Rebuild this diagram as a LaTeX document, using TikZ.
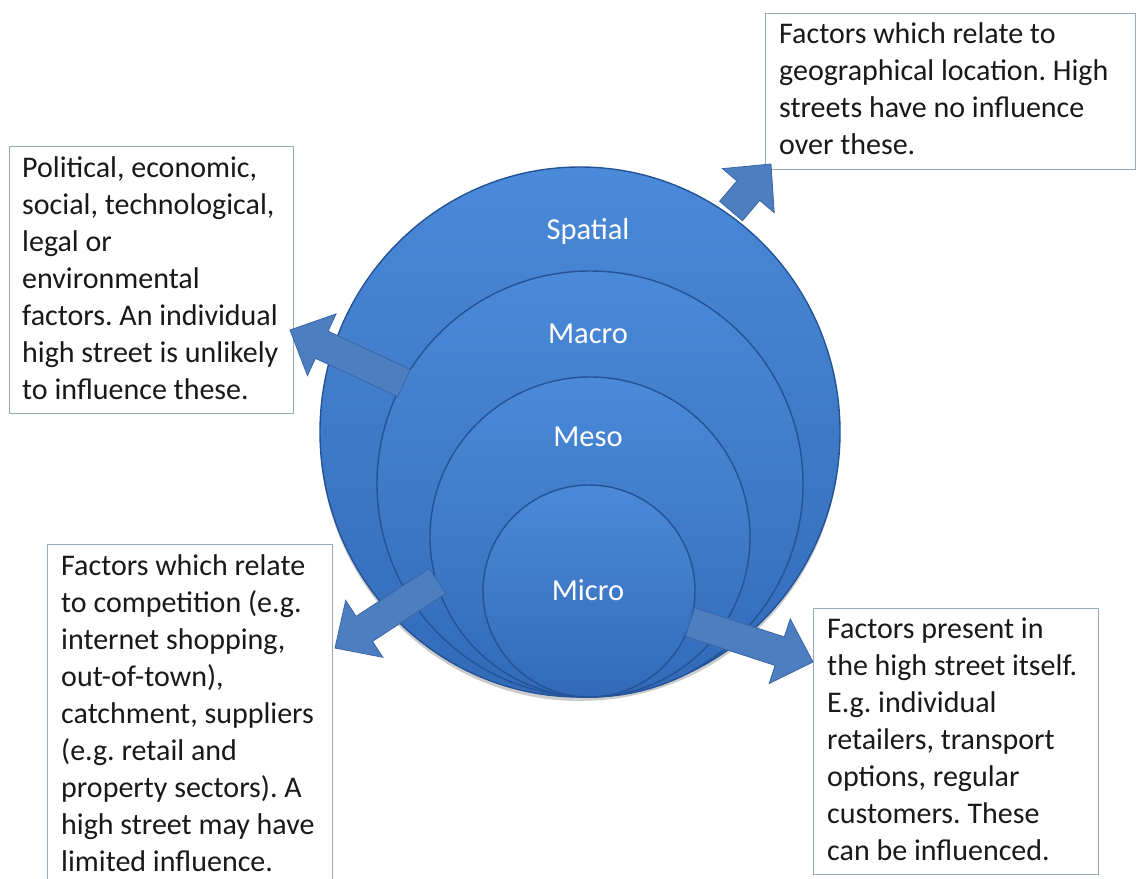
\documentclass[tikz,border=0pt]{standalone}
\usepackage{fontspec}
\setmainfont{Carlito}
\usetikzlibrary{calc,shapes.geometric,shadows}
\definecolor{circtop}{RGB}{74,138,216}
\definecolor{circbot}{RGB}{50,106,184}
\definecolor{circedge}{RGB}{36,82,150}
\definecolor{arrfill}{RGB}{76,126,192}
\definecolor{arredge}{RGB}{58,102,166}
\definecolor{boxedge}{RGB}{150,170,186}
\definecolor{txt}{RGB}{25,25,25}
\frenchspacing
\newcommand{\blockarrow}[1]{%
  \coordinate (#1n) at ($(#1h)!35pt!(#1t)$);
  \filldraw[blockarr] ($(#1t)!15pt!90:(#1h)$) -- ($(#1n)!15pt!-90:(#1t)$) -- ($(#1n)!34pt!-90:(#1t)$) -- (#1h) -- ($(#1n)!34pt!90:(#1t)$) -- ($(#1n)!15pt!90:(#1t)$) -- ($(#1t)!15pt!-90:(#1h)$) -- cycle;}
\begin{document}
\begin{tikzpicture}[x=1pt,y=-1pt,
  layer/.style={draw=circedge, line width=1.4pt, top color=circtop, bottom color=circbot, inner sep=0pt},
  lbl/.style={text=white, font=\fontsize{30.5}{36}\selectfont, anchor=base, inner sep=0pt},
  infobox/.style={draw=boxedge, line width=1pt, fill=white, anchor=north west, inner sep=0pt},
  infotext/.style={anchor=north west, inner sep=0pt, align=left, text=txt, font=\fontsize{30}{37}\selectfont},
  blockarr/.style={fill=arrfill, draw=arredge, line width=0.8pt, line join=miter}]
\useasboundingbox (0,0) rectangle (1137,878);
\clip (0,0) rectangle (1137,878);
% nested circles
\node[layer, ellipse, minimum width=520pt, minimum height=530pt, drop shadow={shadow xshift=0pt, shadow yshift=-4pt, opacity=0.2, fill=black}] (spatial) at (580,432) {};
\node[layer, circle, minimum size=426pt] (macro) at (590,484) {};
\node[layer, circle, minimum size=320pt] (meso) at (590,537) {};
\node[layer, circle, minimum size=212pt] (micro) at (589,591) {};
\node[lbl] (lspatial) at (588,239) {Spatial};
\node[lbl] (lmacro) at (588,343) {Macro};
\node[lbl] (lmeso) at (588,446) {Meso};
\node[lbl] (lmicro) at (588,600) {Micro};
% boxes
\node[infobox, minimum width=370pt, minimum height=156pt] (boxTR) at (765,12.7) {};
\node[infobox, minimum width=284.5pt, minimum height=267pt] (boxL) at (8.5,146) {};
\node[infobox, minimum width=285pt, minimum height=360pt] (boxBL) at (47,544) {};
\node[infobox, minimum width=285pt, minimum height=266.3pt] (boxBR) at (813,607.7) {};
\node[infotext] (tTR) at ($(boxTR.north west)+(14,6)$) {\rule{0pt}{25pt}Factors which relate to\\geographical location. High\\streets have no influence\\over these.};
\node[infotext] (tL) at ($(boxL.north west)+(13.5,6)$) {\rule{0pt}{25pt}Political, economic,\\social, technological,\\legal or\\environmental\\factors. An individual\\high street is unlikely\\to influence these.};
\node[infotext] (tBL) at ($(boxBL.north west)+(14,6)$) {\rule{0pt}{25pt}Factors which relate\\to competition (e.g.\\internet shopping,\\out-of-town),\\catchment, suppliers\\(e.g. retail and\\property sectors). A\\high street may have\\limited influence.};
\node[infotext] (tBR) at ($(boxBR.north west)+(14,6)$) {\rule{0pt}{25pt}Factors present in\\the high street itself.\\E.g. individual\\retailers, transport\\options, regular\\customers. These\\can be influenced.};
% arrows
\coordinate (a1t) at (731,211);
\coordinate (a1h) at (771,164);
\coordinate (a2t) at (404,383);
\coordinate (a2h) at (290,330);
\coordinate (a3t) at (437.5,581);
\coordinate (a3h) at (335,648);
\coordinate (a4t) at (690,622);
\coordinate (a4h) at (813,662);
\blockarrow{a1}
\blockarrow{a2}
\blockarrow{a3}
\blockarrow{a4}
\end{tikzpicture}
\end{document}
